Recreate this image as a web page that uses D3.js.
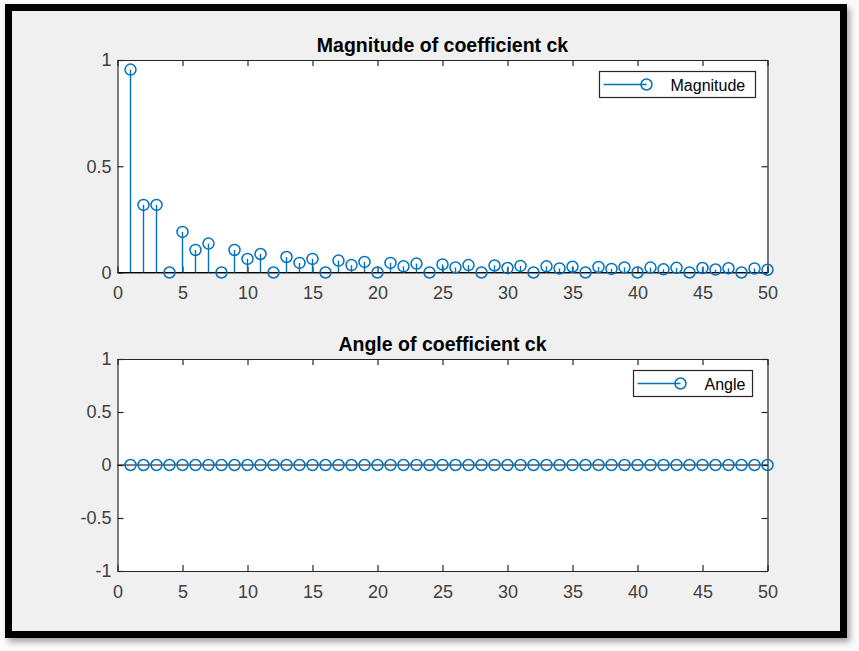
<!DOCTYPE html>
<html>
<head>
<meta charset="utf-8">
<script src="https://cdn.jsdelivr.net/npm/d3@7"></script>
<style>
  body { margin: 0; background: #fbfbfb; }
  svg { display: block; font-family: "Liberation Sans", Arial, sans-serif; }
</style>
</head>
<body>
<div id="chart"></div>
<script>
// harmonic index k = 1..50
const k = d3.range(1, 51)

// magnitude |ck|
const magnitude = [
    0.955, 0.318, 0.318, 0, 0.191, 0.106, 0.136, 0, 0.106, 0.064,
    0.087, 0, 0.073, 0.045, 0.064, 0, 0.056, 0.035, 0.050, 0,
    0.045, 0.029, 0.042, 0, 0.038, 0.024, 0.035, 0, 0.033, 0.021,
    0.031, 0, 0.029, 0.019, 0.027, 0, 0.026, 0.017, 0.024, 0,
    0.023, 0.015, 0.022, 0, 0.021, 0.014, 0.020, 0, 0.019, 0.013
]

// angle of ck, all zero
const angle = [
    0, 0, 0, 0, 0, 0, 0, 0, 0, 0,
    0, 0, 0, 0, 0, 0, 0, 0, 0, 0,
    0, 0, 0, 0, 0, 0, 0, 0, 0, 0,
    0, 0, 0, 0, 0, 0, 0, 0, 0, 0,
    0, 0, 0, 0, 0, 0, 0, 0, 0, 0
]

const xTicks = [0, 5, 10, 15, 20, 25, 30, 35, 40, 45, 50]
const magTicks = [0, 0.5, 1]
const angTicks = [-1, -0.5, 0, 0.5, 1]

const width = 859
const height = 651
const blue = "#0072bd"
const axisColor = "#262626"

const svg = d3.select("#chart")
    .append("svg")
    .attr("width", width)
    .attr("height", height)

// shadow + black frame of the figure window
const defs = svg.append("defs")
const shadow = defs.append("filter").attr("id", "shadow")
    .attr("x", "-5%").attr("y", "-5%").attr("width", "115%").attr("height", "115%")
shadow.append("feDropShadow")
    .attr("dx", 3).attr("dy", 4).attr("stdDeviation", 3)
    .attr("flood-color", "#000").attr("flood-opacity", 0.35)

svg.append("rect")
    .attr("x", 8.5).attr("y", 7.5)
    .attr("width", 835).attr("height", 627)
    .attr("fill", "#f0f0f0")
    .attr("stroke", "#000")
    .attr("stroke-width", 7)
    .attr("filter", "url(#shadow)")

const x = d3.scaleLinear().domain([0, 50]).range([117.5, 767.5])

function drawPanel(opts) {
    const y = d3.scaleLinear().domain(opts.yDomain).range([opts.bottom, opts.top])
    const g = svg.append("g")

    g.append("rect")
        .attr("x", x.range()[0]).attr("y", opts.top)
        .attr("width", x.range()[1] - x.range()[0])
        .attr("height", opts.bottom - opts.top)
        .attr("fill", "#fff")

    // axes, ticks pointing inward
    const axes = [
        { a: d3.axisBottom(x).tickValues(xTicks).tickFormat(d3.format("d")), t: `translate(0,${opts.bottom})`, pad: 14 },
        { a: d3.axisTop(x).tickValues(xTicks).tickFormat(""), t: `translate(0,${opts.top})`, pad: 0 },
        { a: d3.axisLeft(y).tickValues(opts.yTicks).tickFormat(d => String(d)), t: `translate(${x.range()[0]},0)`, pad: 6 },
        { a: d3.axisRight(y).tickValues(opts.yTicks).tickFormat(""), t: `translate(${x.range()[1]},0)`, pad: 0 }
    ]
    axes.forEach(ax => {
        const sel = g.append("g")
            .attr("transform", ax.t)
            .call(ax.a.tickSizeInner(-6).tickSizeOuter(0).tickPadding(ax.pad))
        sel.select(".domain").attr("stroke", axisColor).attr("stroke-width", 1.2)
        sel.selectAll(".tick line").attr("stroke", axisColor).attr("stroke-width", 1.2)
        sel.selectAll(".tick text")
            .attr("fill", "#404040")
            .style("font-size", "18px")
    })

    // baseline
    g.append("line")
        .attr("x1", x(0)).attr("x2", x(50))
        .attr("y1", y(0)).attr("y2", y(0))
        .attr("stroke", "#000").attr("stroke-width", 1.2)

    // stems
    g.selectAll("line.stem")
        .data(opts.values)
        .join("line")
        .attr("class", "stem")
        .attr("x1", (d, i) => x(k[i])).attr("x2", (d, i) => x(k[i]))
        .attr("y1", y(0)).attr("y2", d => y(d))
        .attr("stroke", blue).attr("stroke-width", 1.4)

    g.selectAll("circle.mark")
        .data(opts.values)
        .join("circle")
        .attr("class", "mark")
        .attr("cx", (d, i) => x(k[i]))
        .attr("cy", d => y(d))
        .attr("r", 5.5)
        .attr("fill", "none")
        .attr("stroke", blue)
        .attr("stroke-width", 1.5)

    // title
    g.append("text")
        .attr("x", (x.range()[0] + x.range()[1]) / 2)
        .attr("y", opts.top - 8)
        .attr("text-anchor", "middle")
        .attr("font-weight", "bold")
        .style("font-size", "19.5px")
        .attr("fill", "#000")
        .text(opts.title)

    // legend
    const L = opts.legend
    g.append("rect")
        .attr("x", L.x).attr("y", L.y)
        .attr("width", L.w).attr("height", 26)
        .attr("fill", "#fff")
        .attr("stroke", axisColor).attr("stroke-width", 1.2)
    g.append("line")
        .attr("x1", L.x + 4).attr("x2", L.x + 47)
        .attr("y1", L.y + 13).attr("y2", L.y + 13)
        .attr("stroke", blue).attr("stroke-width", 1.4)
    g.append("circle")
        .attr("cx", L.x + 47).attr("cy", L.y + 13).attr("r", 5.5)
        .attr("fill", "none").attr("stroke", blue).attr("stroke-width", 1.5)
    g.append("text")
        .attr("x", L.x + 71).attr("y", L.y + 19)
        .style("font-size", "16px")
        .attr("fill", "#000")
        .text(opts.name)
}

drawPanel({
    top: 60, bottom: 272.5, yDomain: [0, 1], yTicks: magTicks,
    values: magnitude, title: "Magnitude of coefficient ck", name: "Magnitude",
    legend: { x: 599.5, y: 71.5, w: 156 }
})

drawPanel({
    top: 359, bottom: 571, yDomain: [-1, 1], yTicks: angTicks,
    values: angle, title: "Angle of coefficient ck", name: "Angle",
    legend: { x: 633.5, y: 370.5, w: 119 }
})
</script>
</body>
</html>
